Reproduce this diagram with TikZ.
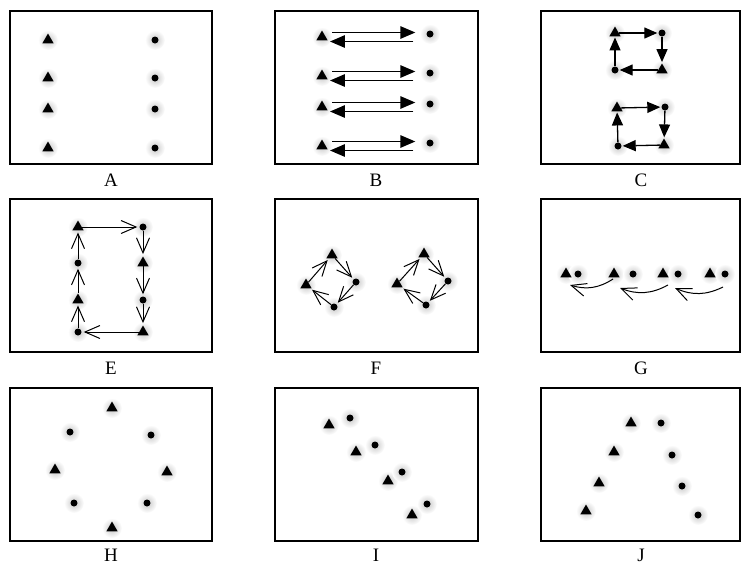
\documentclass[tikz,border=0pt]{standalone}
\usepackage{fontspec}
\setmainfont{Liberation Serif}
\usetikzlibrary{arrows.meta,positioning,shapes.geometric,calc,backgrounds}
\tikzset{
  panel/.style={draw, line width=1.3pt},
  lbl/.style={font=\fontsize{19}{22}\selectfont, inner sep=0pt},
  tri/.style={regular polygon, regular polygon sides=3, fill=black,
              inner sep=0pt, minimum size=13pt},
  dot/.style={circle, fill=black, inner sep=0pt, minimum size=7pt},
  glow/.style={inner color=black!22, outer color=white},
  bigarr/.style={-{Triangle[length=15pt,width=12.5pt]}, line width=1.4pt},
  sqarr/.style={-{Triangle[length=13pt,width=11pt]}, line width=1.3pt, shorten >=1pt},
  barb/.style={-{Straight Barb[length=15pt,width=13pt]}, line width=1pt,
               shorten >=2pt},
}
\begin{document}
\begin{tikzpicture}[x=1pt, y=-1pt]
  \useasboundingbox (0,0) rectangle (741,566);

  % Frames
  \foreach \xa/\xb/\ya/\yb in {10/212/11/164, 275/478/11/164, 541/740/11/164,
      10/212/199/352, 275/478/199/352, 541/740/199/352,
      10/212/388/541, 275/478/388/541, 541/740/388/541}
    \draw[panel] (\xa,\ya) rectangle (\xb,\yb);

  % Captions
  \node[lbl] (la) at (111,180) {A};
  \node[lbl] (lb) at (376,180) {B};
  \node[lbl] (lc) at (641,180) {C};
  \node[lbl] (le) at (111,368) {E};
  \node[lbl] (lf) at (376,368) {F};
  \node[lbl] (lg) at (641,368) {G};
  \node[lbl] (lh) at (111,555) {H};
  \node[lbl] (li) at (376,555) {I};
  \node[lbl] (lj) at (641,555) {J};

  % A: two columns
  \foreach \y [count=\i] in {40,78,109,148} {
    \node[tri] (at\i) at (48,\y) {};
    \node[dot] (ac\i) at (155,\y) {};
  }

  % B: paired double arrows
  \foreach \y [count=\i] in {37,76,107,146} {
    \node[tri] (bt\i) at (322,\y) {};
    \node[dot] (bc\i) at (430,\y-3) {};
    \draw[bigarr, transform canvas={yshift=4.5pt}, shorten <=6pt, shorten >=11pt]
      (bt\i) -- (bt\i -| bc\i.west);
    \draw[bigarr, transform canvas={yshift=-4.5pt}, shorten <=13pt, shorten >=4pt]
      (bt\i -| bc\i.west) -- (bt\i);
  }

  % C: two small squares
  \node[tri] (ct1) at (615,33) {};
  \node[dot] (cc1) at (662,33) {};
  \node[tri] (ct2) at (662,70) {};
  \node[dot] (cc2) at (615,70) {};
  \node[tri] (ct3) at (617,108) {};
  \node[dot] (cc3) at (665,107) {};
  \node[tri] (ct4) at (664,145) {};
  \node[dot] (cc4) at (618,146) {};
  \foreach \a/\b in {1/2,3/4} {
    \draw[sqarr] (ct\a) -- (cc\a);
    \draw[sqarr] (cc\a) -- (ct\b);
    \draw[sqarr] (ct\b) -- (cc\b);
    \draw[sqarr] (cc\b) -- (ct\a);
  }

  % E: one big loop
  \foreach \xt/\yt/\xc/\yc [count=\i] in {78/227/143/227, 143/263/143/300,
      143/332/78/332, 78/300/78/263} {
    \node[tri] (et\i) at (\xt,\yt) {};
    \node[dot] (ec\i) at (\xc,\yc) {};
  }
  \foreach \i/\j in {1/2,2/3,3/4,4/1} {
    \draw[barb] (et\i) -- (ec\i);
    \draw[barb] (ec\i) -- (et\j);
  }

  % F: two rings
  \node[tri] (ft1) at (332,255) {};
  \node[dot] (fc1) at (356,282) {};
  \node[dot] (fc2) at (334,307) {};
  \node[tri] (ft2) at (306,285) {};
  \node[tri] (ft3) at (424,254) {};
  \node[dot] (fc3) at (448,281) {};
  \node[dot] (fc4) at (426,305) {};
  \node[tri] (ft4) at (397,284) {};
  \foreach \a/\b in {1/2,3/4} {
    \draw[barb] (ft\a) -- (fc\a);
    \draw[barb] (fc\a) -- (fc\b);
    \draw[barb] (fc\b) -- (ft\b);
    \draw[barb] (ft\b) -- (ft\a);
  }

  % G: row of pairs
  \foreach \xt/\xc [count=\i] in {566/578, 614/633, 663/678, 710/725} {
    \node[tri] (gt\i) at (\xt,274) {};
    \node[dot] (gc\i) at (\xc,274) {};
  }
  \draw[barb, shorten >=0pt] ($(gc4)+(-2,13)$) to[bend left=25] ($(gc3)+(-3,14)$);
  \draw[barb, shorten >=0pt] ($(gt3)+(5,11)$) to[bend left=25] ($(gt2)+(6,14)$);
  \draw[barb, shorten >=0pt] ($(gt2)+(-1,5)$) to[bend left=25] ($(gt1)+(4,11)$);

  % H: ring
  \foreach \xt/\yt/\xc/\yc [count=\i] in {112/408/70/432, 55/470/151/435,
      167/472/74/503, 112/528/147/503} {
    \node[tri] (ht\i) at (\xt,\yt) {};
    \node[dot] (hc\i) at (\xc,\yc) {};
  }

  % I: diagonal
  \foreach \xt/\yt/\xc/\yc [count=\i] in {329/425/350/418, 356/452/375/445,
      388/481/402/472, 412/515/427/504} {
    \node[tri] (it\i) at (\xt,\yt) {};
    \node[dot] (ic\i) at (\xc,\yc) {};
  }

  % J: wedge
  \foreach \xt/\yt/\xc/\yc [count=\i] in {631/423/661/423, 614/452/672/455,
      599/483/682/486, 586/511/698/515} {
    \node[tri] (jt\i) at (\xt,\yt) {};
    \node[dot] (jc\i) at (\xc,\yc) {};
  }

  % soft halos
  \begin{scope}[on background layer]
    \foreach \p in {a,b,c,e,f,g,h,i,j}
      \foreach \k in {t,c}
        \foreach \i in {1,...,4}
          \shade[glow] (\p\k\i) circle (10);
  \end{scope}
\end{tikzpicture}
\end{document}
